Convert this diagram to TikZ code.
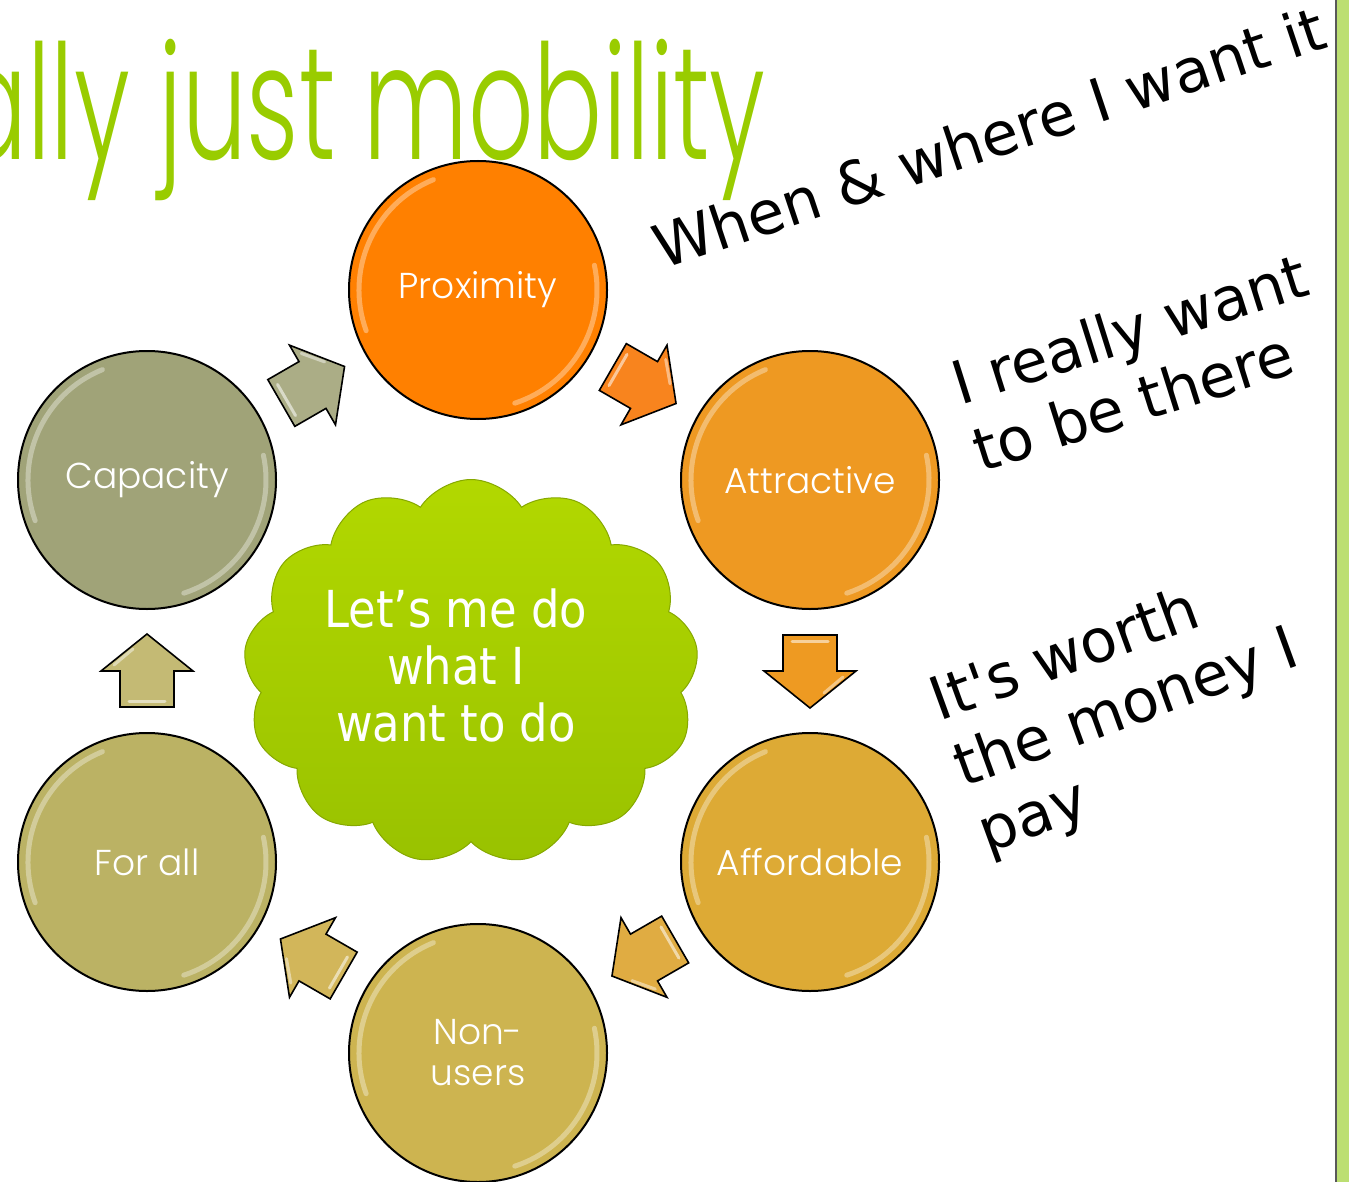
\documentclass[tikz,border=0pt]{standalone}
\usepackage{fontspec}
\newfontfamily\gothic{Poppins Light}
\newfontfamily\comic{DejaVu Sans}
\newfontfamily\comicn{DejaVu Sans}[FakeStretch=0.88]
\usetikzlibrary{shapes.symbols,calc}
\definecolor{titlegreen}{HTML}{99CC00}
\definecolor{cprox}{HTML}{FF8000}
\definecolor{cattr}{HTML}{EE9922}
\definecolor{caff}{HTML}{DDAA35}
\definecolor{cnon}{HTML}{CDB450}
\definecolor{cfor}{HTML}{BBB264}
\definecolor{ccap}{HTML}{A0A378}
\definecolor{acap}{HTML}{ABAD86}
\definecolor{aprox}{HTML}{F8841E}
\definecolor{aattr}{HTML}{EE9A22}
\definecolor{aaff}{HTML}{E0AC42}
\definecolor{anon}{HTML}{D2B65A}
\definecolor{afor}{HTML}{C4BA74}
\definecolor{cloudtop}{HTML}{B2D800}
\definecolor{cloudbot}{HTML}{99C200}
\definecolor{cloudedge}{HTML}{86A800}
\definecolor{bargreen}{HTML}{BCDF72}
\tikzset{
  bub/.style={circle, draw=black, line width=2pt, minimum size=258pt, inner sep=0pt,
    text=white, align=center, font=\gothic\fontsize{36}{41}\selectfont},
  gloss/.style={white, opacity=0.35, line width=5pt, line cap=round},
  rtext/.style={inner sep=0pt, text=black, align=left, font=\comic\fontsize{60}{70}\selectfont},
  pics/barrow/.style={code={
    \draw[line width=1.6pt, line join=miter, fill=#1]
      (-36,-27) -- (0,-27) -- (0,-46) -- (37,0) -- (0,46) -- (0,27) -- (-36,27) -- cycle;
    \draw[white, opacity=0.55, line width=3pt, line cap=round] (-30,-18) -- (-30,18);
    \draw[white, opacity=0.45, line width=3pt, line cap=round] (6,-33) -- (22,-14);
  }}
}
\begin{document}
\begin{tikzpicture}[x=1pt,y=-1pt]
\useasboundingbox (0,0) rectangle (1349,1182);
\begin{scope}
  \clip (0,0) rectangle (1349,1182);
  \node[anchor=base west, inner sep=0pt, text=titlegreen,
        font=\gothic\fontsize{160}{170}\selectfont] (title) at (-42,160) {\scalebox{0.64}[1]{ally just mobility}};
\end{scope}
% right bar
\fill[black!65] (1335,0) rectangle (1337,1182);
\fill[bargreen] (1337,0) rectangle (1349,1182);

% circles
\node[bub, fill=cprox]  (prox)   at (478,290)  {Proximity};
\node[bub, fill=cattr]  (attr)   at (810,480)  {Attractive};
\node[bub, fill=caff]   (aff)    at (810,862)  {Affordable};
\node[bub, fill=cnon]   (non)    at (478,1053) {Non-\\users};
\node[bub, fill=cfor]   (forall) at (147,862)  {For all};
\node[bub, fill=ccap]   (cap)    at (147,480)  {Capacity};
\foreach \n in {prox,attr,aff,non,forall,cap}{
  \draw[gloss] ($(\n.center)+(-200:119)$) arc[start angle=-200, end angle=-112, radius=119];
  \draw[gloss] ($(\n.center)+(-12:119)$) arc[start angle=-12, end angle=72, radius=119];
}

% block arrows between circles
\pic[rotate=30]   at ($(cap)!0.5!(prox)$)    {barrow=acap};
\pic[rotate=-30]  at ($(prox)!0.5!(attr)$)   {barrow=aprox};
\pic[rotate=-90]  at ($(attr)!0.5!(aff)$)    {barrow=aattr};
\pic[rotate=-150] at ($(aff)!0.5!(non)$)     {barrow=aaff};
\pic[rotate=150]  at ($(non)!0.5!(forall)$)  {barrow=anon};
\pic[rotate=90]   at ($(forall)!0.5!(cap)$)  {barrow=afor};

% cloud
\node[cloud, cloud puffs=13, cloud puff arc=115, aspect=1.2,
      minimum width=455pt, minimum height=385pt, inner sep=0pt,
      draw=cloudedge, line width=1pt, top color=cloudtop, bottom color=cloudbot] (cloud) at (471,672) {};
\node[inner sep=0pt, text=white, align=center, font=\comicn\fontsize{51}{57}\selectfont]
  (cloudtext) at (456,665) {Let’s me do\\what I\\want to do};

% rotated handwritten notes
\node[rtext, rotate=18.5, anchor=base west] (note1) at (662,270) {When \& where I want it};
\node[rtext, rotate=17.5, anchor=west] (note2) at (964,418) {I really want\\to be there};
\node[rtext, rotate=20, anchor=west] (note3) at (958,772) {It's worth\\the money I\\pay};
\end{tikzpicture}
\end{document}
